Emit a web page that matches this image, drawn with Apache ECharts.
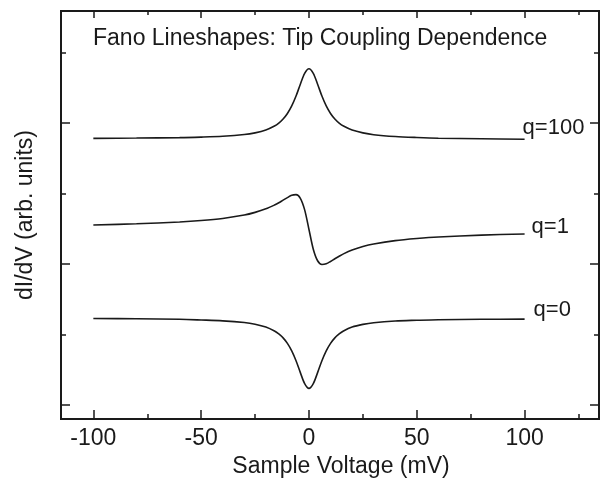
<!DOCTYPE html>
<html>
<head>
<meta charset="utf-8">
<script src="https://cdn.jsdelivr.net/npm/echarts@6/dist/echarts.min.js"></script>
<style>
  html, body { margin: 0; padding: 0; background: #fff; }
  #chart { width: 600px; height: 483px; }
</style>
</head>
<body>
<div id="chart"></div>
<script>
// sample voltage (mV)
var voltage = [-100, -80, -60, -50, -40, -30, -25, -20, -16, -14, -12, -10, -8, -6, -4, -2, 0,
               2, 4, 6, 8, 10, 12, 14, 16, 20, 25, 30, 40, 50, 60, 80, 100];
// dI/dV, arb. units
var q100 = [1.891, 1.893, 1.896, 1.900, 1.906, 1.918, 1.930, 1.950, 1.978, 1.999, 2.028, 2.067, 2.121, 2.191, 2.275, 2.352, 2.385,
            2.352, 2.275, 2.191, 2.121, 2.067, 2.028, 1.999, 1.978, 1.950, 1.930, 1.917, 1.904, 1.897, 1.892, 1.888, 1.885];
var q1 = [1.277, 1.285, 1.298, 1.308, 1.323, 1.347, 1.366, 1.391, 1.418, 1.434, 1.453, 1.471, 1.488, 1.492, 1.466, 1.384, 1.245,
          1.105, 1.023, 0.997, 1.002, 1.018, 1.037, 1.055, 1.072, 1.099, 1.124, 1.142, 1.166, 1.181, 1.192, 1.205, 1.213];
var q0 = [0.614, 0.612, 0.608, 0.603, 0.597, 0.585, 0.573, 0.553, 0.525, 0.504, 0.476, 0.437, 0.384, 0.314, 0.230, 0.152, 0.118,
          0.152, 0.230, 0.314, 0.384, 0.437, 0.476, 0.504, 0.525, 0.553, 0.572, 0.584, 0.596, 0.601, 0.605, 0.608, 0.609];

var xMajor = [-100, -50, 0, 50, 100];
var xMinor = [-75, -25, 25, 75, 125];
var yMajor = [0, 1, 2];
var yMinor = [0.5, 1.5, 2.5];

var xMin = -115, xMax = 134.5;
var yMin = -0.099, yMax = 2.794;
var fontName = 'Liberation Sans';
var ink = '#1a1a1a';

function pairs(ys) {
    var out = [];
    for (var i = 0; i < voltage.length; i++) out.push([voltage[i], ys[i]]);
    return out;
}

function xAx(pos, ticks, len, extra) {
    var a = {
        type: 'value', position: pos, min: xMin, max: xMax,
        axisLine: { show: true, onZero: false, lineStyle: { color: ink, width: 2 } },
        axisTick: { show: true, inside: true, length: len, customValues: ticks, lineStyle: { color: ink, width: 1.5 } },
        axisLabel: { show: false },
        splitLine: { show: false }
    };
    for (var k in extra) a[k] = extra[k];
    return a;
}
function yAx(pos, ticks, len) {
    return {
        type: 'value', position: pos, min: yMin, max: yMax,
        axisLine: { show: true, onZero: false, lineStyle: { color: ink, width: 2 } },
        axisTick: { show: true, inside: true, length: len, customValues: ticks, lineStyle: { color: ink, width: 1.5 } },
        axisLabel: { show: false },
        splitLine: { show: false }
    };
}

function curve(name, ys, off) {
    return {
        name: name, type: 'line', data: pairs(ys),
        xAxisIndex: 0, yAxisIndex: 0,
        showSymbol: false, smooth: 0.3,
        lineStyle: { color: ink, width: 1.6 },
        endLabel: {
            show: true, formatter: name, distance: 0, offset: off,
            color: ink, fontFamily: fontName, fontSize: 22
        },
        silent: true
    };
}

var chart = echarts.init(document.getElementById('chart'));
chart.setOption({
    animation: false,
    backgroundColor: '#fff',
    title: {
        text: 'Fano Lineshapes: Tip Coupling Dependence',
        left: 88, top: 22,
        textStyle: { color: ink, fontFamily: fontName, fontSize: 23, fontWeight: 'normal' }
    },
    grid: { left: 61, right: 1, top: 11, bottom: 64 },
    xAxis: [
        xAx('bottom', xMajor, 9, {
            axisLabel: { show: true, customValues: xMajor, margin: 8, color: ink, fontFamily: fontName, fontSize: 23 },
            name: 'Sample Voltage (mV)', nameLocation: 'middle', nameGap: 36,
            nameTextStyle: { color: ink, fontFamily: fontName, fontSize: 23, padding: [0, 0, 0, 22] }
        }),
        xAx('bottom', xMinor, 5, {}),
        xAx('top', xMajor, 7, {}),
        xAx('top', xMinor, 4, {})
    ],
    yAxis: [
        (function () {
            var a = yAx('left', yMajor, 9);
            a.name = 'dI/dV (arb. units)';
            a.nameLocation = 'middle';
            a.nameGap = 24;
            a.nameTextStyle = { color: ink, fontFamily: fontName, fontSize: 23 };
            return a;
        })(),
        yAx('left', yMinor, 5),
        yAx('right', yMajor, 9),
        yAx('right', yMinor, 5)
    ],
    series: [
        curve('q=100', q100, [-2, -11]),
        curve('q=1', q1, [7, -7]),
        curve('q=0', q0, [9, -9])
    ]
});
</script>
</body>
</html>
